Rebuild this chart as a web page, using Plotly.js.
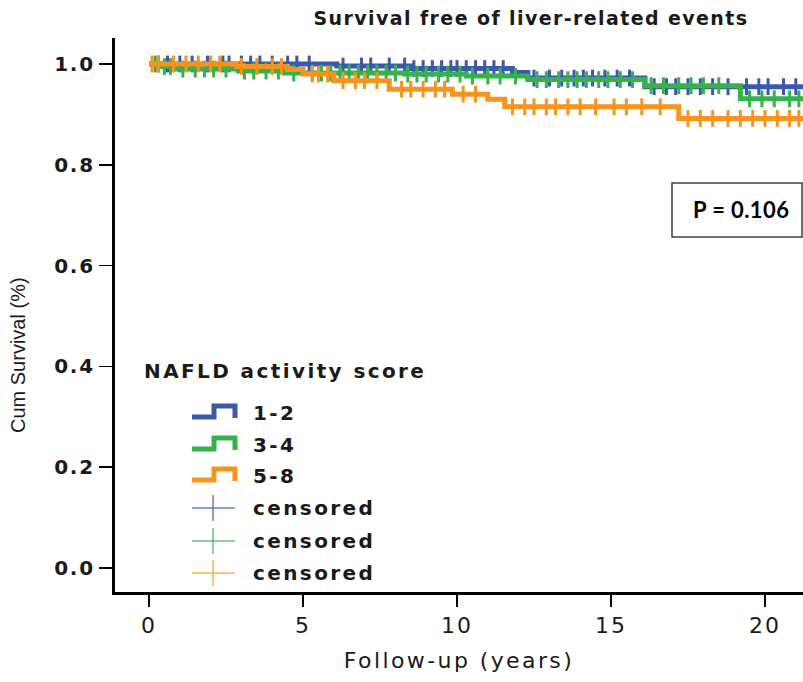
<!DOCTYPE html>
<html>
<head>
<meta charset="utf-8">
<script src="https://cdn.plot.ly/plotly-3.0.1.min.js"></script>
<style>
  html, body { margin: 0; padding: 0; background: #fff; }
  #chart { width: 803px; height: 682px; }
  .gtitle { letter-spacing: 1.4px; }
  .ytick text { letter-spacing: 1.8px; }
  .xtick text { letter-spacing: 2px; }
  .xtitle { letter-spacing: 2.4px; }
  .annotation-text { letter-spacing: 2.4px; }
</style>
</head>
<body>
<div id="chart"></div>
<script>
// ---- Data ----
const groupNames = ["1-2", "3-4", "5-8"];
const groupColors = ["#3c57ae", "#36b24a", "#f7941e"];

// Event times (years) and survival after each step
const eventTimes12 = [0, 6.1, 8.5, 11.8, 12.3, 16.1];
const survival12   = [1.0, 0.996, 0.991, 0.983, 0.972, 0.955];
const eventTimes34 = [0, 0.4, 0.9, 2.9, 4.4, 8.3, 10.3, 12.3, 16.1, 19.2];
const survival34   = [1.0, 0.995, 0.990, 0.986, 0.982, 0.980, 0.976, 0.969, 0.957, 0.931];
const eventTimes58 = [0, 2.85, 4.5, 5.0, 6.0, 7.8, 9.85, 11.0, 11.55, 17.2];
const survival58   = [1.0, 0.995, 0.989, 0.980, 0.967, 0.950, 0.940, 0.930, 0.915, 0.892];

// Censoring times (years)
const censor12 = [0.3, 0.6, 1.0, 1.4, 1.9, 2.4, 2.6, 3.0, 3.3, 3.6, 4.0, 4.5, 4.8, 5.2, 6.3, 6.9, 7.2, 7.8, 8.3, 8.6, 8.9, 9.2, 9.5, 9.8, 10.0, 10.3, 10.6, 10.9, 11.2, 11.5, 12.5, 13.0, 13.4, 13.8, 14.1, 14.4, 14.8, 15.2, 15.6, 16.4, 16.8, 17.1, 17.5, 17.9, 18.3, 18.8, 19.4, 19.8, 20.1, 20.6, 21.0, 21.3];
const censor34 = [0.2, 0.5, 0.7, 1.1, 1.5, 1.8, 2.1, 2.5, 3.1, 3.4, 3.8, 4.2, 4.7, 5.3, 5.6, 5.9, 6.2, 6.5, 6.8, 7.1, 7.4, 7.7, 8.0, 8.4, 8.7, 9.0, 9.4, 9.7, 10.1, 10.5, 11.0, 11.4, 11.9, 12.6, 12.9, 13.3, 13.6, 13.9, 14.2, 14.6, 14.9, 15.3, 15.7, 16.3, 16.7, 17.2, 17.6, 18.0, 18.5, 19.5, 19.9, 20.3, 20.8, 21.1, 21.3];
const censor58 = [0.1, 0.3, 0.8, 1.2, 1.6, 2.0, 2.3, 3.0, 3.5, 4.0, 4.3, 5.3, 5.5, 5.8, 6.3, 6.7, 7.0, 7.4, 8.2, 8.5, 8.9, 9.3, 9.6, 10.2, 10.6, 11.8, 12.2, 12.5, 12.9, 13.2, 13.6, 14.0, 14.5, 15.1, 15.5, 16.0, 16.6, 17.5, 17.9, 18.3, 18.8, 19.2, 19.6, 20.0, 20.4, 20.8, 21.1, 21.3];

const xTickVals = [0, 5, 10, 15, 20];
const yTickVals = [0.0, 0.2, 0.4, 0.6, 0.8, 1.0];
const yTickText = ["0.0", "0.2", "0.4", "0.6", "0.8", "1.0"];

const titleText = "Survival free of liver-related events";
const xTitle = "Follow-up (years)";
const yTitle = "Cum Survival (%)";
const legendTitle = "NAFLD activity score";
const censorLabel = "censored";
const pText = "P = 0.106";

// ---- Build traces ----
const groups = [
  {t: eventTimes12, s: survival12, c: censor12},
  {t: eventTimes34, s: survival34, c: censor34},
  {t: eventTimes58, s: survival58, c: censor58}
];

function survAt(t, times, surv) {
  let v = surv[0];
  for (let i = 0; i < times.length; i++) { if (times[i] <= t) v = surv[i]; }
  return v;
}

const traces = [];
groups.forEach((g, i) => {
  const last = Math.max(...g.c);
  traces.push({
    x: g.t.concat([last]),
    y: g.s.concat([g.s[g.s.length - 1]]),
    type: "scatter", mode: "lines",
    line: {shape: "hv", color: groupColors[i], width: 5},
    name: groupNames[i], showlegend: false, hoverinfo: "skip"
  });
  traces.push({
    x: g.c,
    y: g.c.map(t => survAt(t, g.t, g.s)),
    type: "scatter", mode: "markers",
    marker: {symbol: "line-ns-open", size: 12, color: groupColors[i],
             line: {color: groupColors[i], width: 3}},
    name: censorLabel, showlegend: false, hoverinfo: "skip"
  });
});

// ---- Layout helpers (pixel -> paper) ----
const W = 803, H = 682, ML = 115, MR = 0, MT = 38, MB = 90;
const PW = W - ML - MR, PH = H - MT - MB;
const px = v => (v - ML) / PW;
const py = v => (H - MB - v) / PH;

const legFont = {family: "DejaVu Sans", size: 20, color: "#1a1a1a", weight: "bold"};
const shapes = [];
const annotations = [];

annotations.push({xref: "paper", yref: "paper", x: px(142), y: py(371), xanchor: "left", yanchor: "middle",
  text: legendTitle, showarrow: false, font: legFont});

const stepRows = [413, 445, 476];
stepRows.forEach((yc, i) => {
  const path = `M ${px(192)} ${py(yc + 4)} L ${px(214)} ${py(yc + 4)} L ${px(214)} ${py(yc - 7)} L ${px(235)} ${py(yc - 7)} L ${px(235)} ${py(yc + 5)}`;
  shapes.push({type: "path", xref: "paper", yref: "paper", path: path,
    line: {color: groupColors[i], width: 5}});
  annotations.push({xref: "paper", yref: "paper", x: px(251), y: py(yc), xanchor: "left", yanchor: "middle",
    text: groupNames[i], showarrow: false, font: legFont});
});
const censRows = [508, 541, 573];
censRows.forEach((yc, i) => {
  shapes.push({type: "line", xref: "paper", yref: "paper", x0: px(192), x1: px(235), y0: py(yc), y1: py(yc),
    line: {color: groupColors[i], width: 1.5}, opacity: 0.75});
  shapes.push({type: "line", xref: "paper", yref: "paper", x0: px(213), x1: px(213), y0: py(yc - 13), y1: py(yc + 13),
    line: {color: groupColors[i], width: 1.5}, opacity: 0.75});
  annotations.push({xref: "paper", yref: "paper", x: px(251), y: py(yc), xanchor: "left", yanchor: "middle",
    text: censorLabel, showarrow: false, font: legFont});
});

// P-value box
shapes.push({type: "rect", xref: "paper", yref: "paper", x0: px(672), x1: px(802), y0: py(237), y1: py(183),
  line: {color: "#404040", width: 1.5}, fillcolor: "rgba(0,0,0,0)"});
annotations.push({xref: "paper", yref: "paper", x: px(741), y: py(210), xanchor: "center", yanchor: "middle",
  text: `<span style="letter-spacing:0.4px">${pText}</span>`, showarrow: false,
  font: {family: "Lato", size: 22, color: "#000", weight: "bold"}});

// Y-axis title (placed as in the reference, slightly below the axis centre)
annotations.push({xref: "paper", yref: "paper", x: px(18), y: py(355), xanchor: "center", yanchor: "middle",
  textangle: -90, text: `<span style="letter-spacing:0px">${yTitle}</span>`, showarrow: false,
  font: {family: "Liberation Sans", size: 20, color: "#1a1a1a"}});

const layout = {
  width: W, height: H,
  margin: {l: ML, r: MR, t: MT, b: MB, pad: 0},
  paper_bgcolor: "#fff", plot_bgcolor: "#fff",
  showlegend: false,
  title: {text: titleText, x: 531 / W, xref: "container", xanchor: "center",
          y: 1 - 18 / H, yanchor: "middle",
          font: {family: "DejaVu Sans", size: 19, color: "#1a1a1a", weight: "bold"}},
  xaxis: {
    range: [(ML - 149) / 30.8, (W - 149) / 30.8],
    tickvals: xTickVals, ticktext: xTickVals.map(String),
    showline: true, linecolor: "#000", linewidth: 3,
    ticks: "outside", ticklen: 12, tickwidth: 1.6, tickcolor: "#000",
    showgrid: false, zeroline: false,
    tickfont: {family: "DejaVu Sans", size: 22, color: "#1a1a1a"},
    title: {text: xTitle, standoff: 16, font: {family: "DejaVu Sans", size: 22, color: "#1a1a1a"}}
  },
  yaxis: {
    range: [(568 - 592) / 504, (568 - 38) / 504],
    tickvals: yTickVals, ticktext: yTickText,
    showline: true, linecolor: "#000", linewidth: 3,
    ticks: "outside", ticklen: 13, tickwidth: 1.6, tickcolor: "#000",
    showgrid: false, zeroline: false,
    tickfont: {family: "DejaVu Sans", size: 20, color: "#1a1a1a", weight: "bold"}
  },
  shapes: shapes,
  annotations: annotations
};

Plotly.newPlot("chart", traces, layout, {staticPlot: true, displayModeBar: false});
</script>
</body>
</html>
